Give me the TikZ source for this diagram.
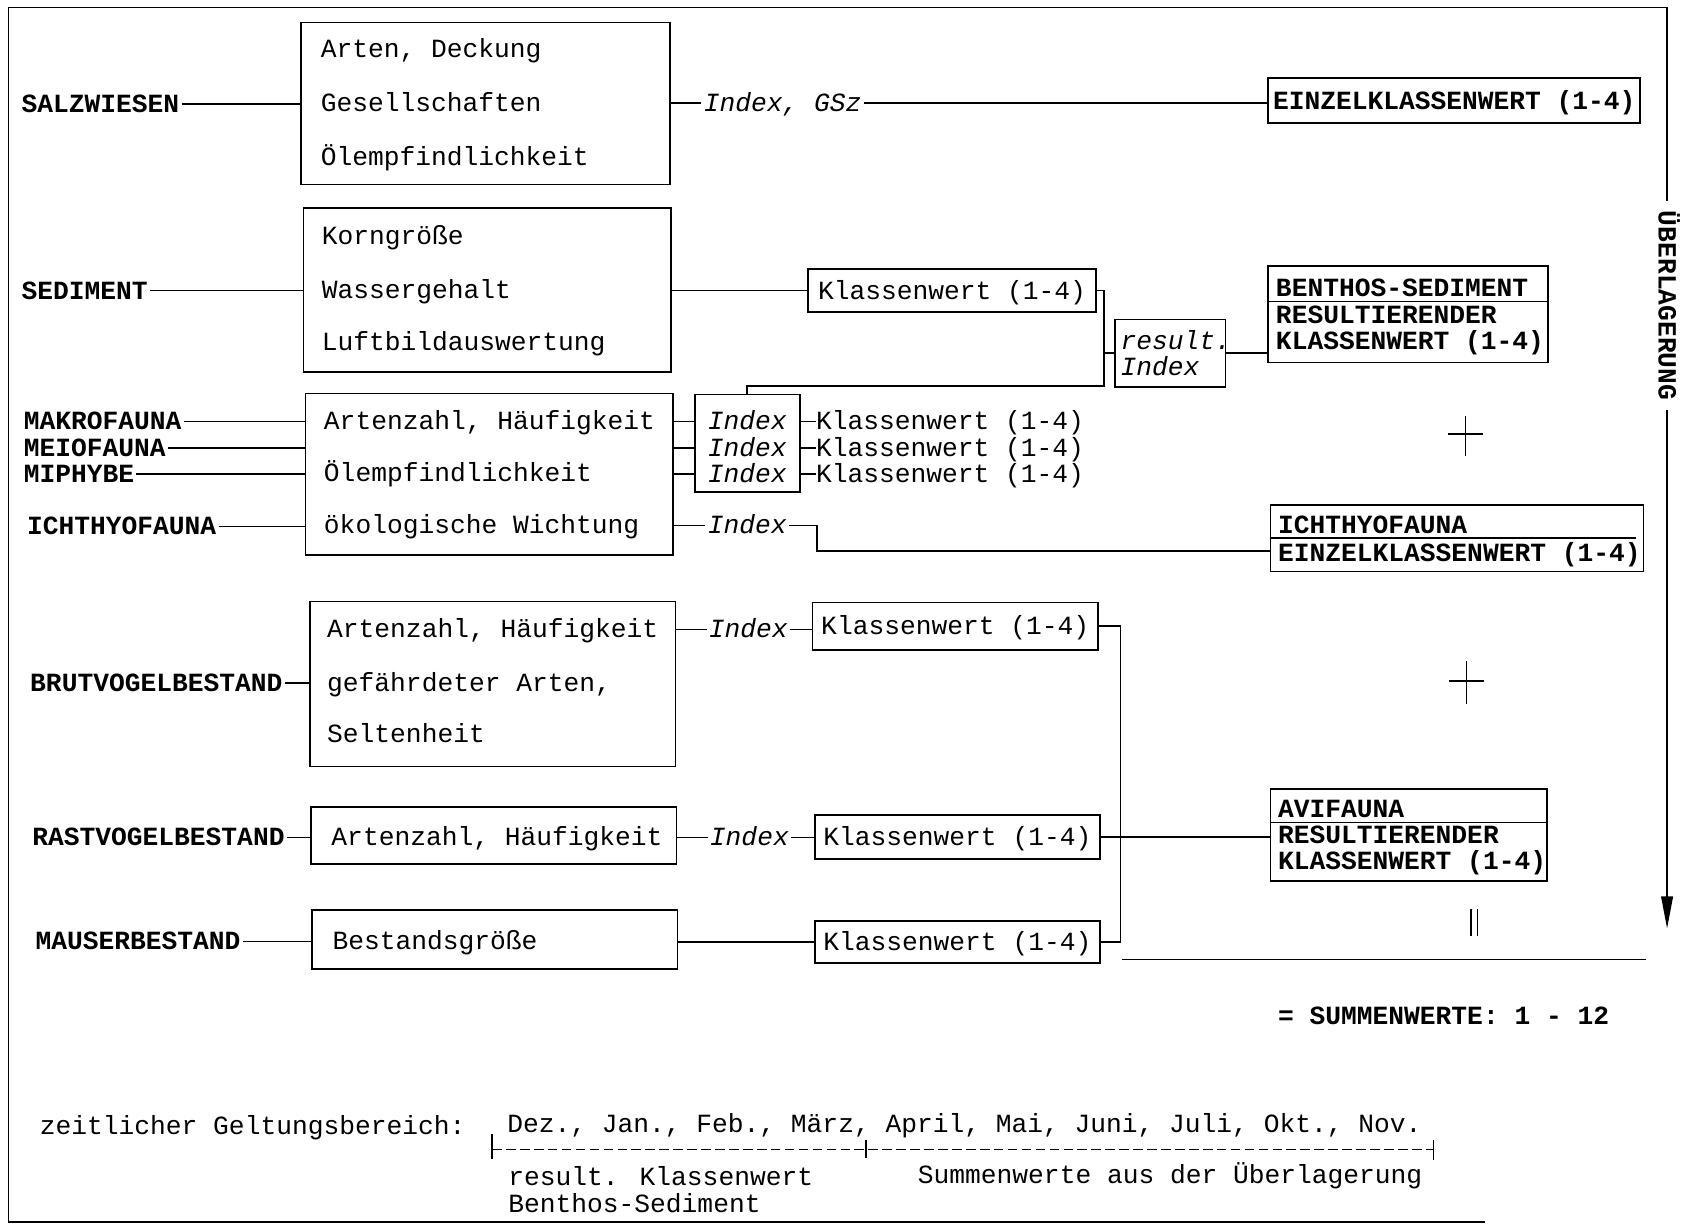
\documentclass[tikz,border=0pt]{standalone}
\usepackage{fontspec}
\setmainfont{Liberation Mono}
\usetikzlibrary{arrows.meta}

% rectangle box given by its corners: name, x1, y1, x2, y2
\newcommand\mkbox[5]{\node[bx, minimum width={(#4-#2)*1pt}, minimum height={(#5-#3)*1pt}] (#1) at ({(#2+#4)/2},{(#3+#5)/2}) {};}

\begin{document}
\begin{tikzpicture}[x=1pt,y=-1pt,
  every node/.style={font=\fontsize{24.5}{28}\selectfont, inner sep=0pt,
                     text height=16pt, text depth=0pt},
  bx/.style={draw, line width=1.6pt, rectangle},
  lbl/.style={font=\fontsize{24.5}{28}\selectfont\bfseries, anchor=west, inner xsep=2pt},
  bold/.style={font=\fontsize{24.5}{28}\selectfont\bfseries},
  txt/.style={anchor=west},
  btxt/.style={bold, anchor=west},
  itxt/.style={font=\fontsize{24.5}{28}\selectfont\itshape, anchor=west},
  idx/.style={font=\fontsize{24.5}{28}\selectfont\itshape, inner xsep=2pt, anchor=center},
  ln/.style={line width=1.4pt},
]
\useasboundingbox (0,0) rectangle (1568,1142);

% ---------- frame and overlay arrow ----------
\coordinate (fTL) at (8,7);
\coordinate (fTR) at (1555,7);
\coordinate (fBL) at (8,1140);
\coordinate (fBR) at (1385,1140);
\coordinate (tip) at (1555,866);
\node[bold, rotate=-90, inner xsep=9pt] (ueb) at (1555,285) {ÜBERLAGERUNG};
\draw[ln] (fBR) -- (fBL) -- (fTL) -- (fTR) -- (ueb.west);
\draw[ln, -{Triangle[length=30pt, width=11pt]}] (ueb.east) -- (tip);

% ---------- Salzwiesen ----------
\node[lbl] (salz) at (18,97) {SALZWIESEN};
\mkbox{b1}{281}{21}{625}{172}
\node[txt] (b1a) at (299,46) {Arten, Deckung};
\node[txt] (b1b) at (299,96) {Gesellschaften};
\node[txt] (b1c) at (299,146) {Ölempfindlichkeit};
\node[idx] (gsz) at (730,96) {Index, GSz};
\mkbox{e1}{1183}{73}{1530}{115}
\node[bold] (e1t) at (e1) {EINZELKLASSENWERT (1-4)};
\draw[ln] (salz.east) -- (salz.east -| b1.west);
\draw[ln] (b1.east |- gsz) -- (gsz.west);
\draw[ln] (gsz.east) -- (gsz.east -| e1.west);

% ---------- Sediment ----------
\node[lbl] (sed) at (18,271) {SEDIMENT};
\mkbox{b2}{283}{194}{626}{347}
\node[txt] (b2a) at (300,220) {Korngröße};
\node[txt] (b2b) at (300,270) {Wassergehalt};
\node[txt] (b2c) at (300,319) {Luftbildauswertung};
\mkbox{k1}{754}{251}{1022}{291}
\node (k1t) at (k1) {Klassenwert (1-4)};
\draw[ln] (sed.east) -- (sed.east -| b2.west);
\draw[ln] (b2.east |- k1) -- (k1.west);

\mkbox{res}{1040}{298}{1143}{361}
\node[itxt] (res1) at (1045,318) {result.};
\node[itxt] (res2) at (1045,342) {Index};

\mkbox{bt}{1183}{248}{1444}{338}
\coordinate (btd) at (1190,281);
\draw[ln] (bt.west |- btd) -- (bt.east |- btd);
\node[btxt] (bt1) at (1190,269) {BENTHOS-SEDIMENT};
\node[btxt] (bt2) at (1190,294) {RESULTIERENDER};
\node[btxt] (bt3) at (1190,318) {KLASSENWERT (1-4)};

% ---------- Benthos fauna ----------
\node[lbl] (makro) at (20,393) {MAKROFAUNA};
\node[lbl] (meio) at (20,418) {MEIOFAUNA};
\node[lbl] (miphy) at (20,442) {MIPHYBE};
\node[lbl] (ichth) at (23,491) {ICHTHYOFAUNA};
\mkbox{b3}{285}{367}{628}{518}
\node[txt] (b3a) at (302,393) {Artenzahl, Häufigkeit};
\node[txt] (b3b) at (302,441) {Ölempfindlichkeit};
\node[txt] (b3c) at (302,490) {ökologische Wichtung};
\foreach \n in {makro,meio,miphy,ichth}
  \draw[ln] (\n.east) -- (\n.east -| b3.west);

\mkbox{ib}{648}{368}{746}{459}
\node[idx] (i1) at (697,393) {Index};
\node[idx] (i2) at (697,418) {Index};
\node[idx] (i3) at (697,442) {Index};
\node[txt] (kw1) at (761,393) {Klassenwert (1-4)};
\node[txt] (kw2) at (761,418) {Klassenwert (1-4)};
\node[txt] (kw3) at (761,442) {Klassenwert (1-4)};
\foreach \i/\k in {i1/kw1,i2/kw2,i3/kw3}{
  \draw[ln] (b3.east |- \i) -- (ib.west |- \i);
  \draw[ln] (ib.east |- \k.west) -- (\k.west);
}

% sediment and benthos values combine into the resulting index
\coordinate (bus1) at (1030,360);
\draw[ln] (k1.east) -| (bus1) -| (ib.north);
\draw[ln] (bus1 |- res.west) -- (res.west);
\draw[ln] (res.east) -- (res.east -| bt.west);

% ichthyofauna
\node[idx] (i4) at (697,490) {Index};
\mkbox{ich}{1185}{471}{1533}{533}
\coordinate (ichd) at (1192,502);
\draw[ln] (ich.west |- ichd) -- ([xshift=-8pt]ich.east |- ichd);
\node[btxt] (ich1) at (1192,490) {ICHTHYOFAUNA};
\node[btxt] (ich2) at (1192,516) {EINZELKLASSENWERT (1-4)};
\coordinate (c4) at (762,514);
\draw[ln] (b3.east |- i4) -- (i4.west);
\draw[ln] (i4.east) -| (c4) -- (c4 -| ich.west);

% plus signs
\draw[ln] (1351,405) -- (1383,405) (1367,388) -- (1367,425);
\draw[ln] (1352,635) -- (1384,635) (1368,617) -- (1368,657);

% ---------- Avifauna ----------
\node[lbl] (brut) at (26,637) {BRUTVOGELBESTAND};
\mkbox{b4}{289}{561}{630}{715}
\node[txt] (b4a) at (305,587) {Artenzahl, Häufigkeit};
\node[txt] (b4b) at (305,637) {gefährdeter Arten,};
\node[txt] (b4c) at (305,685) {Seltenheit};
\node[idx] (i5) at (698,587) {Index};
\mkbox{k2}{758}{562}{1024}{606}
\node (k2t) at (k2) {Klassenwert (1-4)};
\draw[ln] (brut.east) -- (brut.east -| b4.west);
\draw[ln] (b4.east |- i5) -- (i5.west);
\draw[ln] (i5.east) -- (i5.east -| k2.west);

\node[lbl] (rast) at (28,781) {RASTVOGELBESTAND};
\mkbox{b5}{290}{753}{631}{806}
\node[txt] (b5a) at (309,781) {Artenzahl, Häufigkeit};
\node[idx] (i6) at (699,781) {Index};
\mkbox{k3}{760}{760}{1026}{801}
\node (k3t) at (k3) {Klassenwert (1-4)};
\draw[ln] (rast.east) -- (rast.east -| b5.west);
\draw[ln] (b5.east |- i6) -- (i6.west);
\draw[ln] (i6.east) -- (i6.east -| k3.west);

\node[lbl] (maus) at (31,878) {MAUSERBESTAND};
\mkbox{b6}{291}{849}{632}{904}
\node[txt] (b6a) at (310,878) {Bestandsgröße};
\mkbox{k4}{760}{859}{1026}{898}
\node (k4t) at (k4) {Klassenwert (1-4)};
\draw[ln] (maus.east) -- (maus.east -| b6.west);
\draw[ln] (b6.east |- k4.west) -- (k4.west);

\mkbox{avi}{1185}{736}{1443}{822}
\coordinate (avid) at (1192,767);
\draw[ln] (avi.west |- avid) -- (avi.east |- avid);
\node[btxt] (avi1) at (1192,755) {AVIFAUNA};
\node[btxt] (avi2) at (1192,779) {RESULTIERENDER};
\node[btxt] (avi3) at (1192,803) {KLASSENWERT (1-4)};

\coordinate (bus2) at (1045,780);
\draw[ln] (k2.east) -| (bus2 |- k4.east) -- (k4.east);
\draw[ln] (k3.east) -- (k3.east -| avi.west);

% ---------- sum ----------
\draw[ln] (1372,848) -- (1372,873) (1378,848) -- (1378,873);
\draw[ln] (1047,895) -- (1535,895);
\node[btxt] (sum) at (1192,948) {= SUMMENWERTE: 1 - 12};

% ---------- time range ----------
\node[txt] (zeit) at (37,1050) {zeitlicher Geltungsbereich:};
\node[txt] (months) at (473,1048) {Dez., Jan., Feb., März, April, Mai, Juni, Juli, Okt., Nov.};
\coordinate (tA) at (459,1072);
\coordinate (tB) at (808,1072);
\coordinate (tC) at (1337,1072);
\draw[ln, dash pattern=on 9pt off 4pt] (tA) -- (tC);
\draw[ln] ([yshift=-9pt]tA) -- ([yshift=14pt]tA)
          ([yshift=-8pt]tB) -- ([yshift=9pt]tB)
          ([yshift=-10pt]tC) -- ([yshift=9pt]tC);
\node[txt] (rk) at (474,1098) {result. Klassenwert};
\node[txt] (bs) at (474,1123) {Benthos-Sediment};
\node[txt] (sa) at (856,1096) {Summenwerte aus der Überlagerung};
\end{tikzpicture}
\end{document}
